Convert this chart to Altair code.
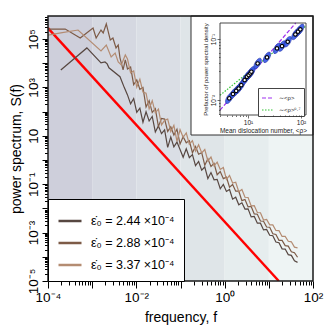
import altair as alt
import pandas as pd

W, H = 265, 265
FONT = "Liberation Sans"

# ---------------- main power spectra (log10 values) -------------
grid_logf = [-2.20, -2.13, -2.06, -1.99, -1.92, -1.85, -1.78, -1.71, -1.64, -1.57,
             -1.50, -1.43, -1.36, -1.29, -1.22, -1.15, -1.08, -1.01, -0.94, -0.87,
             -0.80, -0.73, -0.66, -0.59, -0.52, -0.45, -0.38, -0.31, -0.24, -0.17,
             -0.10, -0.03, 0.04, 0.11, 0.18, 0.25, 0.32, 0.39, 0.46, 0.53,
             0.60, 0.67, 0.74, 0.81, 0.88, 0.95, 1.02, 1.09, 1.16, 1.23,
             1.30, 1.37, 1.44, 1.51, 1.58, 1.65]

dark_early_logf = [-3.71, -3.12, -2.80, -2.71, -2.66, -2.62, -2.37, -2.27]
dark_early_logs = [3.72, 4.63, 4.01, 4.05, 3.97, 3.81, 3.44, 2.98]
dark_grid_logs = [2.69, 2.32, 2.54, 1.97, 2.14, 1.56, 1.99, 1.61, 1.80, 1.16,
                  1.41, 1.09, 1.24, 0.52, 0.95, 0.54, 0.74, 0.43, 0.11, 0.46,
                  0.10, 0.22, -0.23, -0.06, -0.42, -0.29, -0.77, -0.52, -0.82, -0.80,
                  -1.19, -1.01, -1.30, -1.22, -1.62, -1.54, -1.85, -1.77, -2.03, -2.02,
                  -2.35, -2.33, -2.61, -2.61, -2.89, -2.87, -3.11, -3.13, -3.39, -3.42,
                  -3.67, -3.68, -3.91, -3.94, -4.17, -4.23]

medium_early_logf = [-4.00, -3.61, -3.27, -2.98, -2.91, -2.80, -2.75, -2.68, -2.59,
                     -2.53, -2.46, -2.41, -2.37, -2.30, -2.25]
medium_early_logs = [5.41, 5.41, 5.04, 5.45, 5.04, 5.37, 5.25, 5.62, 4.96,
                     5.04, 4.63, 4.75, 4.22, 3.72, 4.14]
medium_grid_logs = [3.76, 3.84, 3.11, 3.31, 2.92, 3.00, 2.19, 2.45, 1.96, 2.12,
                    1.38, 1.72, 1.69, 1.18, 1.37, 1.03, 1.27, 0.66, 0.96, 0.71,
                    0.80, 0.30, 0.56, 0.24, 0.30, -0.22, 0.05, -0.27, -0.14, -0.61,
                    -0.48, -0.77, -0.71, -1.12, -1.01, -1.29, -1.29, -1.68, -1.63, -1.94,
                    -1.92, -2.23, -2.24, -2.52, -2.53, -2.77, -2.78, -3.05, -3.08, -3.32,
                    -3.32, -3.54, -3.56, -3.79, -3.83, -4.02]

light_early_logf = [-4.00, -3.71, -3.32, -2.80, -2.68, -2.57, -2.48, -2.41, -2.34, -2.25]
light_early_logs = [5.16, 5.25, 5.37, 4.51, 4.75, 4.26, 4.42, 4.05, 3.93, 4.34]
light_grid_logs = [4.17, 3.60, 3.68, 3.01, 3.34, 2.81, 2.76, 2.11, 2.45, 1.95,
                   2.10, 1.45, 1.64, 1.69, 1.18, 1.43, 0.77, 1.25, 0.94, 1.12,
                   0.65, 0.80, 0.37, 0.63, 0.29, 0.43, -0.04, 0.12, -0.24, -0.09,
                   -0.39, -0.31, -0.80, -0.64, -0.95, -0.92, -1.31, -1.22, -1.54, -1.55,
                   -1.90, -1.89, -2.17, -2.18, -2.48, -2.46, -2.68, -2.68, -2.91, -2.92,
                   -3.16, -3.16, -3.36, -3.38, -3.60, -3.63]

series_labels = ["ε̇₀ = 2.44 ×10⁻⁴", "ε̇₀ = 2.88 ×10⁻⁴", "ε̇₀ = 3.37 ×10⁻⁴"]
series_colors = ["#574741", "#7d5b47", "#b48c72"]

# red reference line S ~ f^-2
red_f = [1e-4, 16.8]
red_s = [2.8e5, 1e-5]

# shaded frequency decades
band_lo = [1e-4, 1e-3, 1e-2, 1e-1, 1.0, 10.0]
band_hi = [1e-3, 1e-2, 1e-1, 1.0, 10.0, 100.0]
band_colors = ["#cecfdb", "#d5d8e1", "#dadee5", "#dfe5e8", "#e6edee", "#eef4f4"]

# ---------------- inset ----------------
rho = [4.44, 5.21, 6.0, 6.67, 7.48, 8.65, 9.55, 10.3, 11.1, 11.6,
       15.2, 22.8, 35.2, 43.8, 56.1, 78.2, 87.7, 97.0]
prefactor = [0.0107, 0.0126, 0.0142, 0.0155, 0.0176, 0.0213, 0.0241, 0.0257, 0.0274, 0.0292,
             0.0398, 0.0501, 0.0704, 0.0767, 0.0903, 0.119, 0.132, 0.144]
fit_labels = ["∼<ρ>", "∼<ρ>⁰·⁷"]
fit_colors = ["#a030f0", "#33c433"]
fit1_rho = [2.97, 79.5]
fit1_pref = [0.00683, 0.183]
fit2_rho = [2.97, 124.0]
fit2_pref = [0.0120, 0.1635]

# ---------------- tables ----------------
rows = []
for lab, ef, es, gs in [(series_labels[0], dark_early_logf, dark_early_logs, dark_grid_logs),
                        (series_labels[1], medium_early_logf, medium_early_logs, medium_grid_logs),
                        (series_labels[2], light_early_logf, light_early_logs, light_grid_logs)]:
    for a, b in zip(ef + grid_logf, es + gs):
        rows.append({"series": lab, "f": 10 ** a, "S": 10 ** b})
spec_df = pd.DataFrame(rows)
red_df = pd.DataFrame({"f": red_f, "S": red_s})
band_df = pd.DataFrame({"lo": band_lo, "hi": band_hi, "c": band_colors})
inset_df = pd.DataFrame({"rho": rho, "pref": prefactor})
fit_df = pd.DataFrame({
    "rho": fit1_rho + fit2_rho,
    "pref": fit1_pref + fit2_pref,
    "fit": [fit_labels[0]] * 2 + [fit_labels[1]] * 2,
})
dummy = pd.DataFrame({"a": [0]})
inset_frame_df = pd.DataFrame({"x0": [2.97], "x1": [124.0], "y0": [0.0057], "y1": [0.183]})


def label_expr(mapping):
    return " : ".join(f"datum.label == '{k}' ? '{v}'" for k, v in mapping.items()) + " : ''"


MAJOR = "abs(log(datum.value)/LN10 - round(log(datum.value)/LN10)) < 0.001"

xticks = [m * 10.0 ** e for e in range(-4, 2) for m in range(1, 10)] + [100.0]
yticks = [m * 10.0 ** e for e in range(-5, 6) for m in range(1, 10) if m * 10.0 ** e <= 8.9e5]

xs = alt.Scale(type="log", domain=[1e-4, 1e2], nice=False)
ys = alt.Scale(type="log", domain=[1e-5, 8.9e5], nice=False)

x_axis = alt.Axis(
    title="frequency, f", orient="bottom", values=xticks, format=".0e",
    labelExpr=label_expr({"1e-4": "10⁻⁴", "1e-2": "10⁻²", "1e+0": "10⁰", "1e+2": "10²"}),
    tickSize={"condition": {"test": MAJOR, "value": 7}, "value": 4},
    domain=False, grid=False, labelOverlap=False, labelFlush=False, labelBound=False,
    labelFontSize=13.5, titleFontSize=14, labelPadding=2, titlePadding=7,
    tickColor="black", labelColor="black", titleColor="black", titleFontWeight="normal",
)
y_axis = alt.Axis(
    title="power spectrum, S(f)", orient="left", values=yticks, format=".0e",
    labelExpr=label_expr({"1e+5": "10⁵", "1e+3": "10³", "1e+1": "10", "1e-1": "10⁻¹",
                          "1e-3": "10⁻³", "1e-5": "10⁻⁵"}),
    tickSize={"condition": {"test": MAJOR, "value": 6}, "value": 3.5},
    domain=False, grid=False, labelOverlap=False, labelFlush=False, labelBound=False,
    labelAngle=270, labelAlign="center", labelBaseline="bottom",
    labelFontSize=13.5, titleFontSize=14, labelPadding=2, titlePadding=3,
    tickColor="black", labelColor="black", titleColor="black", titleFontWeight="normal",
)

bands = alt.Chart(band_df).mark_rect().encode(
    x=alt.X("lo:Q", scale=xs, axis=None),
    x2="hi:Q",
    y=alt.value(0),
    y2=alt.value(H),
    fill=alt.Fill("c:N", scale=None, legend=None),
)

red = alt.Chart(red_df).mark_line(color="#ff0000", strokeWidth=2.4, clip=True).encode(
    x=alt.X("f:Q", scale=xs, axis=None),
    y=alt.Y("S:Q", scale=ys, axis=None),
)

lines = alt.Chart(spec_df).mark_line(strokeWidth=1.2, clip=True).encode(
    x=alt.X("f:Q", scale=xs, axis=x_axis),
    y=alt.Y("S:Q", scale=ys, axis=y_axis),
    color=alt.Color(
        "series:N",
        scale=alt.Scale(domain=series_labels, range=series_colors),
        legend=alt.Legend(
            title=None, orient="bottom-left", offset=0, fillColor="white", strokeColor="black",
            padding=9, symbolType="stroke", symbolSize=529, symbolStrokeWidth=2.5,
            labelFontSize=12.5, labelOffset=8, rowPadding=2, labelLimit=300, labelColor="black",
        ),
    ),
)

# ---------------- inset layers ----------------
ixs = alt.Scale(type="log", domain=[2.97, 124.0], range=[172, 258], nice=False)
iys = alt.Scale(type="log", domain=[0.0057, 0.183], range=[99, 7], nice=False)

ix_axis = alt.Axis(
    title="Mean dislocation number, <ρ>", orient="bottom", offset=-166, zindex=1,
    values=[3, 4, 5, 6, 7, 8, 9, 10, 20, 30, 40, 50, 60, 70, 80, 90, 100], format=".0e",
    labelExpr=label_expr({"1e+1": "10¹", "1e+2": "10²"}),
    tickSize={"condition": {"test": MAJOR, "value": 3}, "value": 1.5},
    domain=False, grid=False, labelOverlap=False, labelFlush=False, labelBound=False,
    labelFontSize=6.5, titleFontSize=6.5, labelPadding=1, titlePadding=2,
    tickColor="#333", tickWidth=0.7, labelColor="#222", titleColor="#222", titleFontWeight="normal",
)
iy_axis = alt.Axis(
    title="Prefactor of power spectral density", orient="left", offset=-172, zindex=1,
    values=[0.006, 0.007, 0.008, 0.009, 0.01, 0.02, 0.03, 0.04, 0.05, 0.06, 0.07, 0.08,
            0.09, 0.1], format=".0e",
    labelExpr=label_expr({"1e-2": "10⁻²", "1e-1": "10⁻¹"}),
    tickSize={"condition": {"test": MAJOR, "value": 3}, "value": 1.5},
    domain=False, grid=False, labelOverlap=False, labelFlush=False, labelBound=False,
    labelAngle=270, labelAlign="center", labelBaseline="bottom",
    labelFontSize=6.5, titleFontSize=6, labelPadding=1, titlePadding=2,
    tickColor="#333", tickWidth=0.7, labelColor="#222", titleColor="#222", titleFontWeight="normal",
)

inset_box = alt.Chart(dummy).mark_rect(fill="white", stroke="#333", strokeWidth=1).encode(
    x=alt.value(143), x2=alt.value(W), y=alt.value(0), y2=alt.value(119),
)

inset_frame = alt.Chart(inset_frame_df).mark_rect(
    fillOpacity=0, stroke="#333", strokeWidth=0.9
).encode(
    x=alt.X("x0:Q", scale=ixs, axis=None), x2="x1:Q",
    y=alt.Y("y0:Q", scale=iys, axis=None), y2="y1:Q",
)

fit_legend = alt.Legend(
    title=None, orient="none", legendX=210, legendY=72, fillColor="white", strokeColor="#444",
    padding=3, symbolType="stroke", symbolSize=144, symbolStrokeWidth=1.2,
    labelFontSize=6, labelOffset=4, rowPadding=2, labelLimit=100, labelColor="#222",
)

fits = alt.Chart(fit_df).mark_line(strokeWidth=1.2, clip=True).encode(
    x=alt.X("rho:Q", scale=ixs, axis=None),
    y=alt.Y("pref:Q", scale=iys, axis=None),
    color=alt.Color("fit:N", scale=alt.Scale(domain=fit_labels, range=fit_colors), legend=fit_legend),
    strokeDash=alt.StrokeDash("fit:N", scale=alt.Scale(domain=fit_labels, range=[[4, 2], [1.5, 1.5]]),
                              legend=fit_legend),
)

ELLIPSE = "M-1,0 A1,0.45 0 1,1 1,0 A1,0.45 0 1,1 -1,0 Z"
ellipses = alt.Chart(inset_df).mark_point(
    shape=ELLIPSE, filled=True, fill="#3556e6", stroke="#1f2fa5", strokeWidth=0.6,
    opacity=0.9, angle=300, size=140,
).encode(
    x=alt.X("rho:Q", scale=ixs, axis=ix_axis),
    y=alt.Y("pref:Q", scale=iys, axis=iy_axis),
)

circles = alt.Chart(inset_df).mark_point(
    shape="circle", fill="white", stroke="black", strokeWidth=1.1, size=12, opacity=1, filled=False,
).encode(
    x=alt.X("rho:Q", scale=ixs, axis=None),
    y=alt.Y("pref:Q", scale=iys, axis=None),
)

outer_frame = alt.Chart(dummy).mark_rect(fillOpacity=0, stroke="#1a1a1a", strokeWidth=1.5).encode(
    x=alt.value(0), x2=alt.value(W), y=alt.value(0), y2=alt.value(H),
)

chart = alt.layer(
    bands, red, lines, inset_box, fits, ellipses, circles, inset_frame, outer_frame
).resolve_scale(
    x="independent", y="independent", color="independent", strokeDash="independent"
).properties(
    width=W, height=H,
    padding={"left": 40, "top": 8, "right": 11, "bottom": 50},
    autosize=alt.AutoSizeParams(type="none"),
    background="white",
).configure(font=FONT).configure_view(strokeWidth=0)

chart.save("out.html", embed_options={"renderer": "svg", "actions": False})
